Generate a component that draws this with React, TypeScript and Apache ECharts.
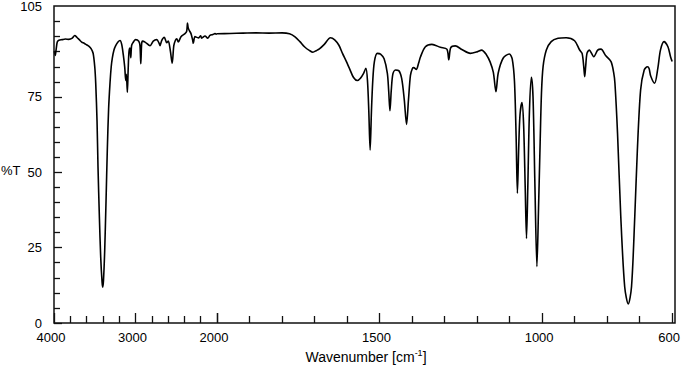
import React, { useEffect, useRef } from 'react';
import * as echarts from 'echarts';

// 4000 – 2000 cm-1 (compressed part of the axis)
const highWavenumbers = [
  3997, 3985, 3975, 3960, 3940, 3900, 3860, 3820, 3780, 3745, 3720, 3690, 3660, 3630, 3600, 3570,
  3545, 3520, 3500, 3488, 3472, 3460, 3443, 3427, 3410, 3402, 3393, 3378, 3362, 3346, 3330, 3313,
  3298, 3285, 3265, 3243, 3215, 3190, 3170, 3150, 3132, 3120, 3112, 3100, 3090, 3080, 3067, 3058,
  3048, 3031, 3000, 2960, 2945, 2935, 2925, 2915, 2883, 2822, 2782, 2740, 2710, 2699, 2679, 2647,
  2617, 2598, 2573, 2550, 2530, 2510, 2494, 2475, 2442, 2393, 2372, 2362, 2354, 2343, 2319, 2300,
  2291, 2270, 2229, 2200, 2188, 2147, 2114, 2086, 2050, 2025, 2000,
];
const highTransmittance = [
  90.2, 88.8, 90.5, 93.2, 93.8, 94.0, 94.2, 94.1, 94.4, 95.4, 94.8, 94.0, 93.2, 92.8, 92.3, 91.8,
  91.0, 89.5, 85.0, 79.5, 67.0, 51.7, 35.0, 21.9, 13.5, 11.9, 14.0, 24.0, 40.0, 57.3, 71.0, 79.5,
  85.0, 87.8, 90.5, 92.0, 93.2, 93.7, 92.5, 89.0, 84.8, 80.5, 82.5, 76.5, 84.0, 90.0, 91.2, 88.0,
  92.0, 93.0, 94.0, 93.5, 92.0, 86.0, 92.5, 93.5, 93.2, 92.0, 93.5, 94.0, 92.8, 92.0, 93.7, 94.8,
  93.0, 93.5, 90.4, 86.2, 92.0, 93.8, 94.3, 93.2, 95.0, 96.0, 96.8, 99.5, 98.0, 97.2, 96.0, 94.0,
  92.8, 95.0, 94.6, 95.3, 94.5, 95.2, 94.5, 95.4, 95.7, 96.0, 95.8,
];

// 2000 – 600 cm-1 (expanded part of the axis)
const lowWavenumbers = [
  2000, 1960, 1920, 1880, 1840, 1800, 1777, 1760, 1745, 1731, 1715, 1705, 1695, 1685, 1670, 1651,
  1638, 1625, 1614, 1603, 1593, 1580, 1568, 1558, 1550, 1542, 1537, 1533, 1529, 1525, 1521, 1516,
  1507, 1497, 1486, 1476, 1472, 1468, 1464, 1459, 1451, 1441, 1432, 1424, 1417, 1411, 1405, 1399,
  1395, 1387, 1380, 1374, 1359, 1339, 1313, 1293, 1287, 1281, 1267, 1247, 1221, 1200, 1186, 1171,
  1160, 1150, 1142, 1135, 1120, 1101, 1092, 1085, 1080, 1076, 1072, 1068, 1062, 1057, 1052, 1048,
  1044, 1039, 1033, 1028, 1022, 1016, 1011, 1006, 1002, 997, 987, 972, 951, 926, 900, 885,
  877, 872, 869, 866, 862, 855, 841, 829, 819, 804, 788, 780, 776, 768, 758, 746,
  735, 725, 715, 707, 697, 686, 676, 671, 666, 654, 644, 636, 625, 613, 605, 600,
];
const lowTransmittance = [
  95.8, 95.9, 96.0, 96.1, 96.0, 96.1, 95.8, 94.8, 93.2, 91.5, 90.2, 89.7, 90.2, 90.8, 92.3, 94.5,
  93.8, 92.0, 89.3, 86.8, 84.4, 81.3, 80.3, 81.2, 82.5, 84.4, 80.0, 70.0, 57.3, 70.0, 80.0, 86.5,
  89.3, 89.1, 87.5, 82.7, 77.0, 70.3, 77.0, 82.5, 83.8, 83.6, 81.0, 74.0, 65.8, 74.0, 82.0, 84.3,
  84.6, 84.0, 86.0, 88.2, 91.5, 92.3, 91.3, 90.7, 87.2, 91.2, 91.8, 90.6, 89.3, 89.8, 90.4, 88.8,
  86.5, 83.0, 76.6, 82.8, 87.7, 89.1, 87.5, 80.0, 62.0, 43.0, 58.0, 69.0, 73.0, 66.0, 45.0, 28.0,
  45.0, 70.0, 81.4, 75.0, 45.0, 18.7, 38.0, 60.0, 76.1, 84.9, 90.4, 93.2, 94.3, 94.5, 93.5, 90.5,
  89.3, 85.0, 81.6, 85.0, 89.3, 90.4, 88.2, 90.4, 90.7, 88.5, 86.6, 83.0, 79.4, 62.8, 35.2, 12.0,
  6.3, 12.0, 35.2, 57.3, 77.2, 83.8, 84.9, 84.3, 81.8, 79.4, 84.4, 90.4, 93.2, 91.5, 88.2, 86.6,
];

const highMajorTicks = [4000, 3000, 2000];
const highMinorTicks = [3800, 3600, 3400, 3200, 2800, 2600, 2400, 2200];
const highLabels = [4000, 3000, 2000];
const lowMajorTicks = [2000, 1500, 1000, 600];
const lowMinorTicks = [1900, 1800, 1700, 1600, 1400, 1300, 1200, 1100, 900, 800, 700];
const lowLabels = [1500, 1000, 600];
const yMajorTicks = [0, 25, 50, 75];
const yMinorTicks = [5, 10, 15, 20, 30, 35, 40, 45, 55, 60, 65, 70, 80, 85, 90, 95, 100];
const yLabels = [0, 25, 50, 75, 105];

const FONT = '"Liberation Sans", Arial, Helvetica, sans-serif';
const AXIS_COLOR = '#111';

function zip(xs: number[], ys: number[]) {
  return xs.map((x, i) => [x, ys[i]]);
}
const plain = (v: number) => String(v);

function xMajor(gridIndex: number, min: number, max: number, ticks: number[], labels: number[]) {
  return {
    type: 'value', gridIndex, min, max, inverse: true, position: 'bottom',
    axisLine: { show: false },
    axisTick: { show: true, inside: true, length: 10, customValues: ticks, lineStyle: { color: AXIS_COLOR, width: 1.3 } },
    axisLabel: {
      show: true, customValues: labels, margin: 8, color: '#000', fontSize: 13, fontFamily: FONT,
      padding: [0, 6, 0, 0], formatter: plain,
    },
    splitLine: { show: false },
  };
}
function xMinor(gridIndex: number, min: number, max: number, ticks: number[]) {
  return {
    type: 'value', gridIndex, min, max, inverse: true, position: 'bottom',
    axisLine: { show: false },
    axisTick: { show: true, inside: true, length: 7, customValues: ticks, lineStyle: { color: AXIS_COLOR, width: 1.3 } },
    axisLabel: { show: false },
    splitLine: { show: false },
  };
}

export default function App() {
  const ref = useRef<HTMLDivElement>(null);
  useEffect(() => {
    if (!ref.current) return;
    const chart = echarts.init(ref.current, undefined, { renderer: 'svg' });
    chart.setOption({
      animation: false,
      backgroundColor: '#fff',
      grid: [
        { left: 54, top: 6, width: 163, height: 317, containLabel: false },
        { left: 217, top: 6, width: 458, height: 317, containLabel: false },
        {
          left: 54, top: 6, width: 621, height: 317, show: true, z: 10,
          borderColor: AXIS_COLOR, borderWidth: 1.5, backgroundColor: 'transparent',
        },
      ],
      xAxis: [
        xMajor(0, 2000, 4000, highMajorTicks, highLabels),
        xMinor(0, 2000, 4000, highMinorTicks),
        xMajor(1, 600, 2000, lowMajorTicks, lowLabels),
        xMinor(1, 600, 2000, lowMinorTicks),
      ],
      yAxis: [
        {
          type: 'value', gridIndex: 0, min: 0, max: 105, position: 'left',
          axisLine: { show: false },
          axisTick: { show: true, inside: true, length: 8, customValues: yMajorTicks, lineStyle: { color: AXIS_COLOR, width: 1.3 } },
          axisLabel: { show: true, customValues: yLabels, margin: 12, color: '#000', fontSize: 13, fontFamily: FONT, formatter: plain },
          splitLine: { show: false },
        },
        {
          type: 'value', gridIndex: 0, min: 0, max: 105, position: 'left',
          axisLine: { show: false },
          axisTick: { show: true, inside: true, length: 6, customValues: yMinorTicks, lineStyle: { color: AXIS_COLOR, width: 1.3 } },
          axisLabel: { show: false }, splitLine: { show: false },
        },
        {
          type: 'value', gridIndex: 1, min: 0, max: 105, position: 'right',
          axisLine: { show: false },
          axisTick: { show: false }, axisLabel: { show: false }, splitLine: { show: false },
        },
      ],
      series: [
        {
          type: 'line', xAxisIndex: 0, yAxisIndex: 0, data: zip(highWavenumbers, highTransmittance),
          symbol: 'none', showSymbol: false, smooth: 0.3, lineStyle: { color: '#000', width: 1.6 },
        },
        {
          type: 'line', xAxisIndex: 2, yAxisIndex: 2, data: zip(lowWavenumbers, lowTransmittance),
          symbol: 'none', showSymbol: false, smooth: 0.3, lineStyle: { color: '#000', width: 1.6 },
        },
      ],
      graphic: [
        {
          type: 'text', left: 1, top: 164,
          style: { text: '%T', fill: '#000', font: `13px ${FONT}` },
        },
        {
          type: 'text', x: 366, y: 357,
          style: {
            text: 'Wavenumber [cm{sup|-1}]', fill: '#000', font: `14px ${FONT}`,
            align: 'center', verticalAlign: 'middle',
            rich: { sup: { fontSize: 9, fontFamily: FONT, fill: '#000', padding: [0, 0, 8, 0] } },
          },
        },
      ],
    });
    return () => chart.dispose();
  }, []);
  return (
    <div
      ref={ref}
      style={{ position: 'absolute', left: 0, top: 0, width: 683, height: 375, background: '#fff' }}
    />
  );
}
